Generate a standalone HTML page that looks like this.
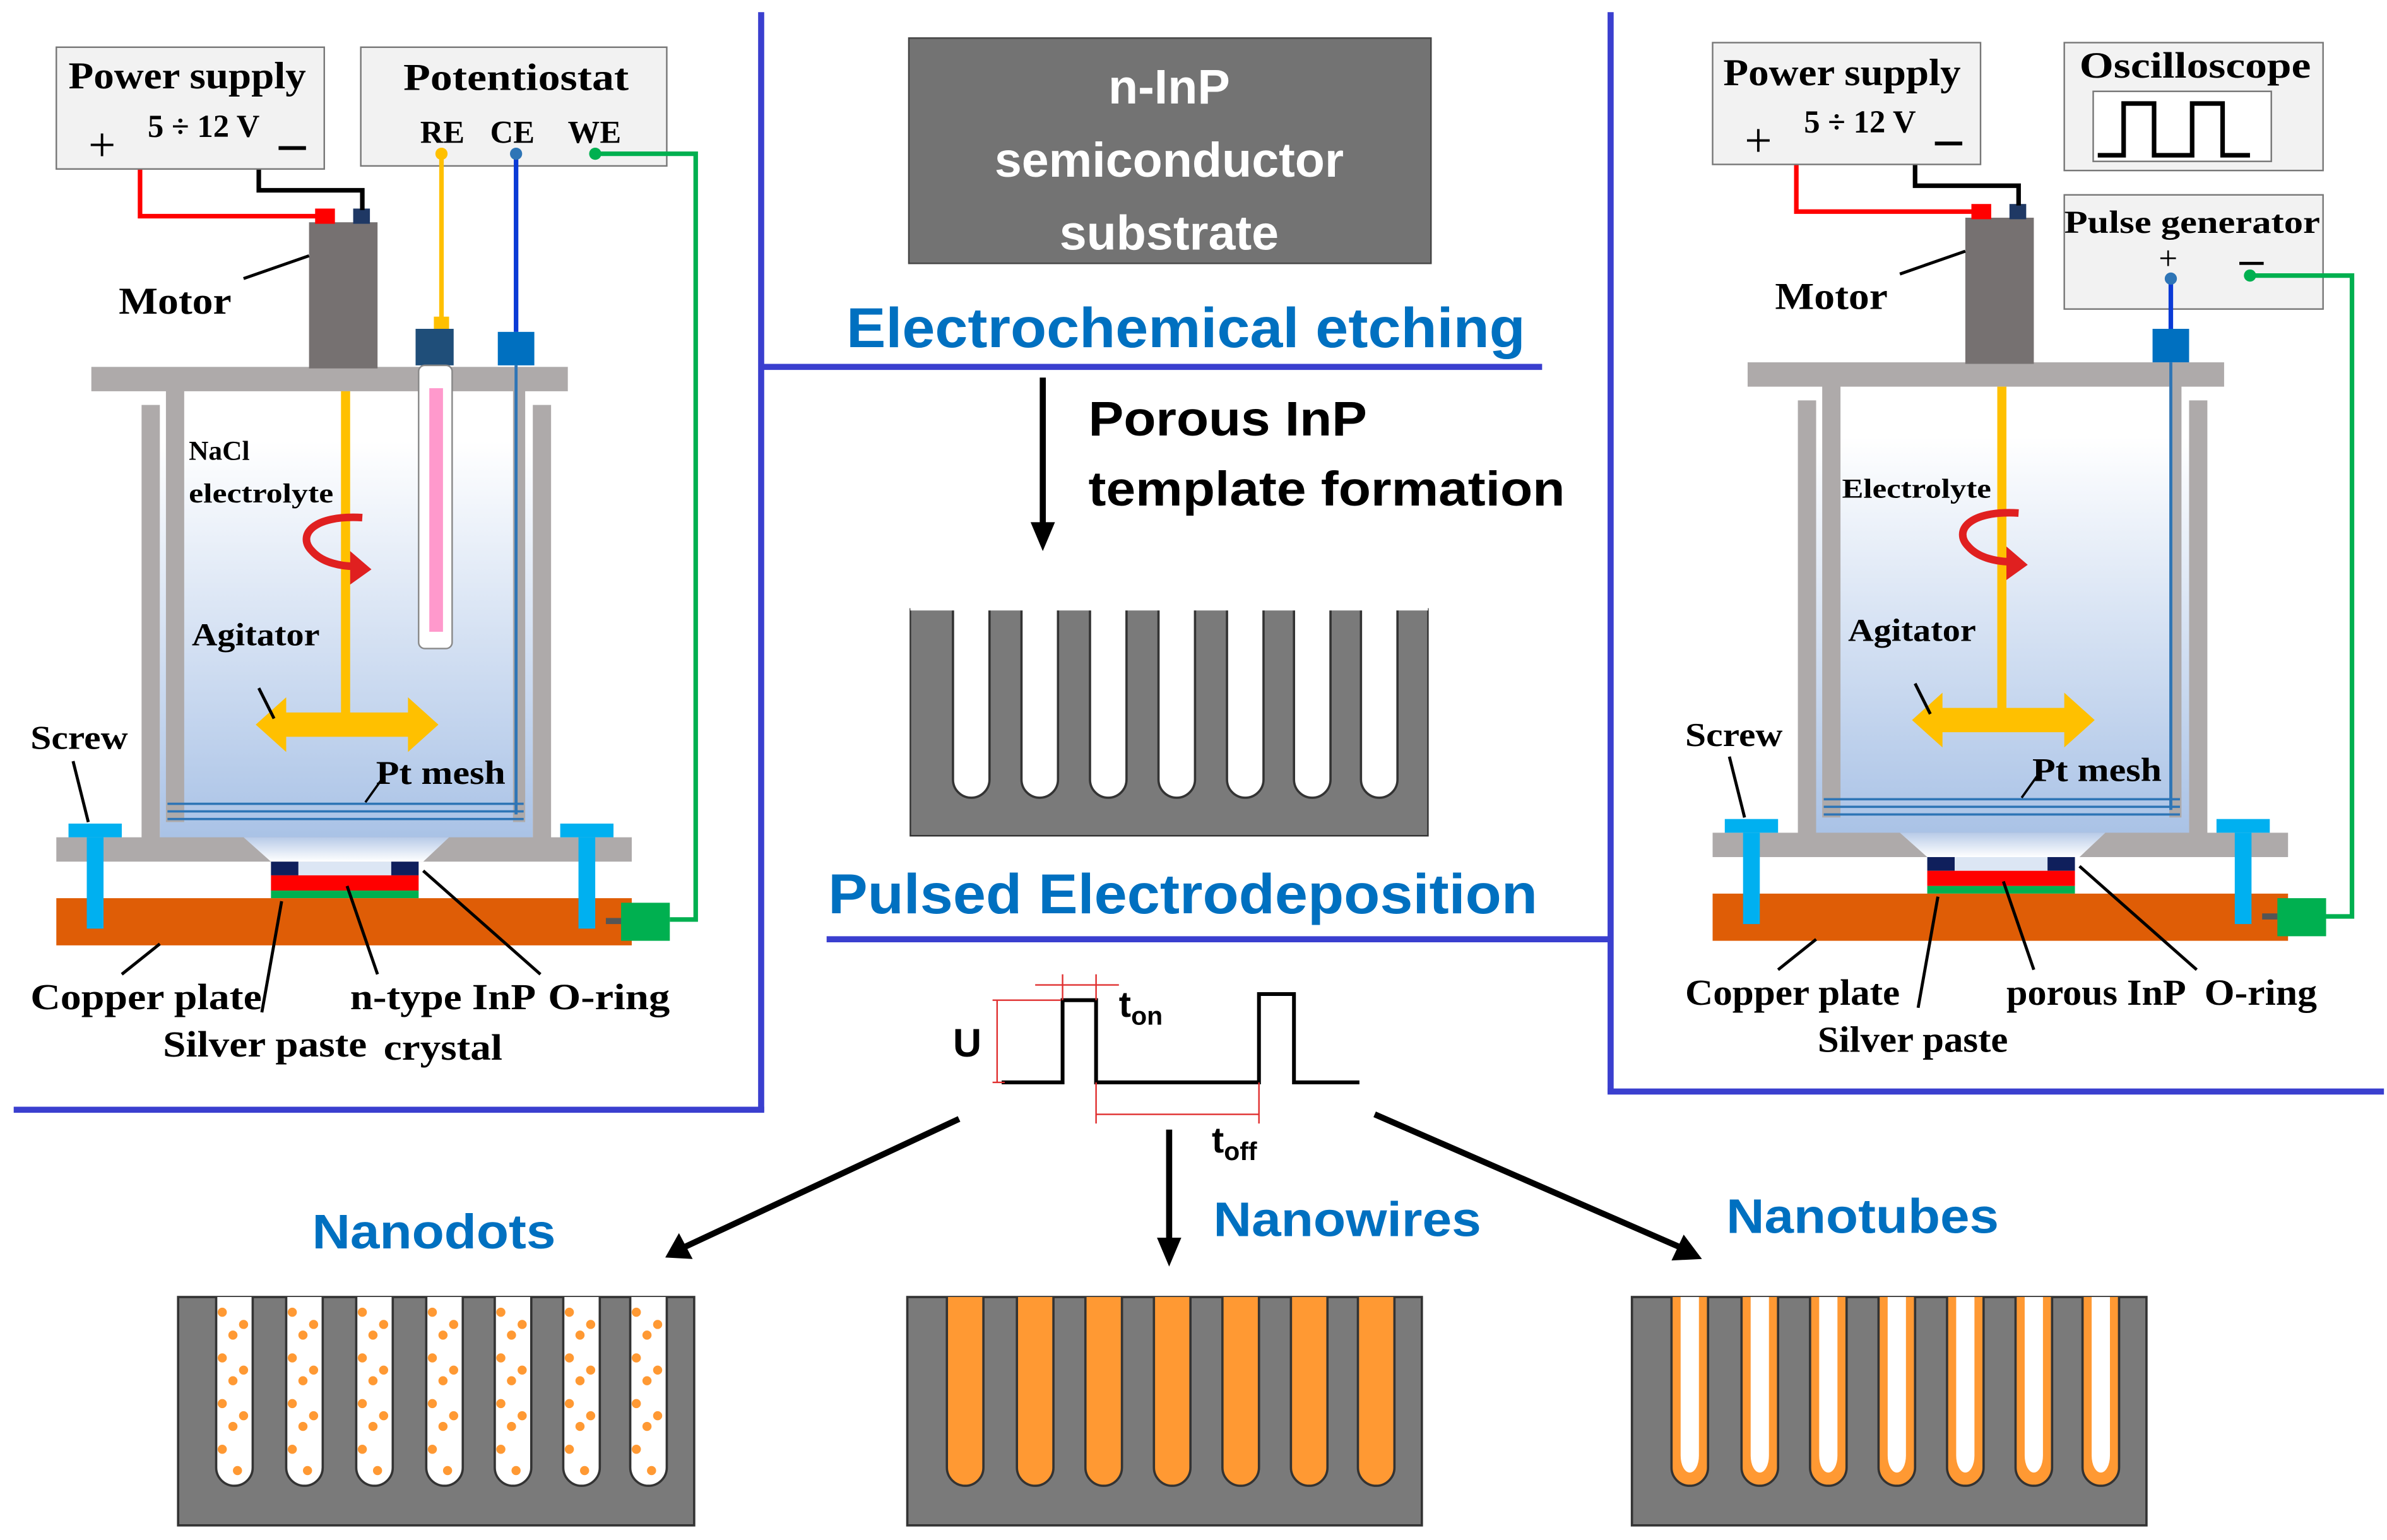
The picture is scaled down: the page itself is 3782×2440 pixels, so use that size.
<!DOCTYPE html>
<html><head><meta charset="utf-8"><style>html,body{margin:0;padding:0;background:#fff}svg{display:block}</style></head>
<body>
<svg width="3782" height="2440" viewBox="0 0 1568 1011.6" xmlns="http://www.w3.org/2000/svg" xmlns:xlink="http://www.w3.org/1999/xlink">
<defs>
<linearGradient id="liq" x1="0" y1="0" x2="0" y2="1"><stop offset="0" stop-color="#ffffff"/><stop offset="1" stop-color="#a9c2e6"/></linearGradient>
<linearGradient id="fun" x1="0" y1="0" x2="0" y2="1"><stop offset="0" stop-color="#b8cbe8"/><stop offset="1" stop-color="#ffffff"/></linearGradient>
<g id="app">
 <rect x="105" y="290" width="245" height="262" fill="url(#liq)"/>
 <rect x="93" y="266" width="12" height="286" fill="#aeaaaa"/>
 <rect x="350" y="266" width="12" height="286" fill="#aeaaaa"/>
 <rect x="109" y="255" width="12" height="285" fill="#aeaaaa"/>
 <rect x="337" y="255" width="8" height="285" fill="#aeaaaa"/>
 <rect x="60" y="241" width="313" height="16" fill="#aeaaaa"/>
 <rect x="203" y="146" width="45" height="96" fill="#767171"/>
 <rect x="207" y="137" width="13" height="10" fill="#ff0000"/>
 <rect x="232" y="137" width="11" height="10" fill="#1f3864"/>
 <polyline points="92,103 92,142 208,142" fill="none" stroke="#ff0000" stroke-width="3"/>
 <polyline points="170,103 170,125 238,125 238,138" fill="none" stroke="#000" stroke-width="3"/>
 <circle cx="92" cy="102" r="4" fill="#fff" stroke="#333"/>
 <circle cx="170" cy="102" r="4" fill="#fff" stroke="#333"/>
 <line x1="227" y1="257" x2="227" y2="470" stroke="#ffc000" stroke-width="6"/>
 <polygon points="168,476 188,458 188,468 268,468 268,458 288,476 268,494 268,484 188,484 188,494" fill="#ffc000"/>
 <path d="M238,340 C205,338 195,352 205,362 C212,370 225,372 233,372" fill="none" stroke="#e02020" stroke-width="5"/>
 <polygon points="230,362 244,374 230,384" fill="#e02020"/>
 <line x1="110" y1="528" x2="344" y2="528" stroke="#2e75b6" stroke-width="1.5"/>
 <line x1="110" y1="533" x2="344" y2="533" stroke="#2e75b6" stroke-width="1.5"/>
 <line x1="110" y1="538" x2="344" y2="538" stroke="#2e75b6" stroke-width="1.5"/>
 <rect x="37" y="550" width="378" height="16" fill="#aeaaaa"/>
 <polygon points="160,550 295,550 278,566 178,566" fill="url(#fun)"/>
 <rect x="196" y="566" width="61" height="9" fill="#dce6f4"/>
 <rect x="178" y="566" width="18" height="9" fill="#0f1f5c"/>
 <rect x="257" y="566" width="18" height="9" fill="#0f1f5c"/>
 <rect x="178" y="575" width="97" height="10" fill="#ff0000"/>
 <rect x="178" y="585" width="97" height="5" fill="#00b050"/>
 <rect x="37" y="590" width="378" height="31" fill="#df5d06"/>
 <rect x="45" y="541" width="35" height="9" fill="#00b0f0"/>
 <rect x="57" y="550" width="11" height="60" fill="#00b0f0"/>
 <rect x="368" y="541" width="35" height="9" fill="#00b0f0"/>
 <rect x="380" y="550" width="11" height="60" fill="#00b0f0"/>
 <rect x="398" y="603" width="10" height="4" fill="#555"/>
 <rect x="408" y="593" width="32" height="25" fill="#00b050"/>
 <line x1="160" y1="183" x2="203" y2="168" stroke="#000" stroke-width="2"/>
 <line x1="180" y1="472" x2="170" y2="452" stroke="#000" stroke-width="2"/>
 <line x1="48" y1="500" x2="58" y2="540" stroke="#000" stroke-width="2"/>
 <line x1="80" y1="640" x2="105" y2="620" stroke="#000" stroke-width="2"/>
 <line x1="172" y1="665" x2="185" y2="592" stroke="#000" stroke-width="2"/>
 <line x1="248" y1="640" x2="228" y2="582" stroke="#000" stroke-width="2"/>
 <line x1="355" y1="640" x2="278" y2="572" stroke="#000" stroke-width="2"/>
 <line x1="240" y1="527" x2="250" y2="513" stroke="#000" stroke-width="1.5"/>
</g>
<g id="pores"><path d="M0,0 V112 a12,12 0 0 0 24,0 V0" /></g>
</defs>
<g font-family="Liberation Serif, serif" font-weight="bold" fill="#000">
<g stroke="#3a3fcf" stroke-width="4" fill="none">
 <line x1="500" y1="8" x2="500" y2="730"/><line x1="9" y1="729" x2="502" y2="729"/>
 <line x1="500" y1="241" x2="1013" y2="241"/>
 <line x1="1058" y1="8" x2="1058" y2="718"/><line x1="1056" y1="717" x2="1566" y2="717"/>
 <line x1="543" y1="617" x2="1058" y2="617"/>
</g>
<use xlink:href="#app"/>
<rect x="37" y="31" width="176" height="80" fill="#f2f2f2" stroke="#777"/>
<text x="45" y="58" font-size="25" textLength="156" lengthAdjust="spacingAndGlyphs">Power supply</text>
<text x="97" y="90" font-size="21">5 ÷ 12 V</text>
<text x="58" y="106" font-size="32" font-weight="normal">+</text>
<rect x="183" y="96" width="18" height="2.5" fill="#000"/>
<rect x="237" y="31" width="201" height="78" fill="#f2f2f2" stroke="#777"/>
<text x="265" y="59" font-size="25" textLength="148" lengthAdjust="spacingAndGlyphs">Potentiostat</text>
<text x="276" y="94" font-size="21">RE</text><text x="322" y="94" font-size="21">CE</text><text x="373" y="94" font-size="21">WE</text>
<line x1="290" y1="101" x2="290" y2="212" stroke="#ffc000" stroke-width="3"/>
<rect x="285" y="208" width="10" height="8" fill="#ffc000"/>
<rect x="273" y="216" width="25" height="24" fill="#1f4e79"/>
<rect x="275" y="240" width="22" height="186" rx="4" fill="#fff" stroke="#888"/>
<rect x="282" y="255" width="9" height="160" fill="#ff99cc"/>
<line x1="339" y1="101" x2="339" y2="218" stroke="#0a3ad6" stroke-width="3"/>
<rect x="327" y="218" width="24" height="22" fill="#0070c0"/>
<line x1="339" y1="240" x2="339" y2="535" stroke="#2e75b6" stroke-width="2"/>
<circle cx="290" cy="101" r="4" fill="#ffc000"/><circle cx="339" cy="101" r="4" fill="#2e75b6"/><circle cx="391" cy="101" r="4" fill="#00b050"/>
<polyline points="391,101 457,101 457,604 440,604" fill="none" stroke="#00b050" stroke-width="3"/>
<text x="78" y="206" font-size="25" textLength="74" lengthAdjust="spacingAndGlyphs">Motor</text>
<text x="124" y="302" font-size="18">NaCl</text>
<text x="124" y="330" font-size="18" textLength="95" lengthAdjust="spacingAndGlyphs">electrolyte</text>
<text x="126" y="424" font-size="21" textLength="84" lengthAdjust="spacingAndGlyphs">Agitator</text>
<text x="20" y="492" font-size="22" textLength="64" lengthAdjust="spacingAndGlyphs">Screw</text>
<text x="247" y="515" font-size="22" textLength="85" lengthAdjust="spacingAndGlyphs">Pt mesh</text>
<text x="20" y="663" font-size="24" textLength="152" lengthAdjust="spacingAndGlyphs">Copper plate</text>
<text x="230" y="663" font-size="24" textLength="122" lengthAdjust="spacingAndGlyphs">n-type InP</text>
<text x="360" y="663" font-size="24" textLength="80" lengthAdjust="spacingAndGlyphs">O-ring</text>
<text x="107" y="694" font-size="24" textLength="134" lengthAdjust="spacingAndGlyphs">Silver paste</text>
<text x="252" y="696" font-size="24" textLength="78" lengthAdjust="spacingAndGlyphs">crystal</text>

<g transform="translate(1088,-3)"><use xlink:href="#app"/></g>
<rect x="1125" y="28" width="176" height="80" fill="#f2f2f2" stroke="#777"/>
<text x="1132" y="56" font-size="25" textLength="156" lengthAdjust="spacingAndGlyphs">Power supply</text>
<text x="1185" y="87" font-size="21">5 ÷ 12 V</text>
<text x="1146" y="103" font-size="32" font-weight="normal">+</text>
<rect x="1271" y="93" width="18" height="2.5" fill="#000"/>
<rect x="1356" y="28" width="170" height="84" fill="#f2f2f2" stroke="#777"/>
<text x="1366" y="51" font-size="24" textLength="152" lengthAdjust="spacingAndGlyphs">Oscilloscope</text>
<rect x="1375" y="60" width="117" height="46" fill="#fff" stroke="#777"/>
<polyline points="1378,102 1395,102 1395,68 1415,68 1415,102 1440,102 1440,68 1460,68 1460,102 1478,102" fill="none" stroke="#000" stroke-width="3"/>
<rect x="1356" y="128" width="170" height="75" fill="#f2f2f2" stroke="#777"/>
<text x="1356" y="153" font-size="21" textLength="168" lengthAdjust="spacingAndGlyphs">Pulse generator</text>
<text x="1418" y="177" font-size="22" font-weight="normal">+</text>
<rect x="1471" y="172" width="16" height="2" fill="#000"/>
<line x1="1426" y1="183" x2="1426" y2="218" stroke="#0a3ad6" stroke-width="3"/>
<circle cx="1426" cy="183" r="4" fill="#2e75b6"/>
<rect x="1414" y="216" width="24" height="22" fill="#0070c0"/>
<line x1="1426" y1="238" x2="1426" y2="532" stroke="#2e75b6" stroke-width="2"/>
<circle cx="1478" cy="181" r="4" fill="#00b050"/>
<polyline points="1478,181 1545,181 1545,602 1528,602" fill="none" stroke="#00b050" stroke-width="3"/>
<text x="1166" y="203" font-size="25" textLength="74" lengthAdjust="spacingAndGlyphs">Motor</text>
<text x="1210" y="327" font-size="18" textLength="98" lengthAdjust="spacingAndGlyphs">Electrolyte</text>
<text x="1214" y="421" font-size="21" textLength="84" lengthAdjust="spacingAndGlyphs">Agitator</text>
<text x="1107" y="490" font-size="22" textLength="64" lengthAdjust="spacingAndGlyphs">Screw</text>
<text x="1335" y="513" font-size="22" textLength="85" lengthAdjust="spacingAndGlyphs">Pt mesh</text>
<text x="1107" y="660" font-size="24" textLength="141" lengthAdjust="spacingAndGlyphs">Copper plate</text>
<text x="1318" y="660" font-size="24" textLength="118" lengthAdjust="spacingAndGlyphs">porous InP</text>
<text x="1448" y="660" font-size="24" textLength="74" lengthAdjust="spacingAndGlyphs">O-ring</text>
<text x="1194" y="691" font-size="24" textLength="125" lengthAdjust="spacingAndGlyphs">Silver paste</text>

<rect x="597" y="25" width="343" height="148" fill="#737373" stroke="#444"/>
<g font-family="Liberation Sans, sans-serif" font-size="32" fill="#fff" text-anchor="middle">
<text x="768" y="68">n-InP</text><text x="768" y="116">semiconductor</text><text x="768" y="164">substrate</text></g>
<g font-family="Liberation Sans, sans-serif" fill="#0070c0" font-size="37">
<text x="556" y="228" textLength="446" lengthAdjust="spacingAndGlyphs">Electrochemical etching</text>
<text x="544" y="600" textLength="466" lengthAdjust="spacingAndGlyphs">Pulsed Electrodeposition</text>
<text x="205" y="820" font-size="32" textLength="160" lengthAdjust="spacingAndGlyphs">Nanodots</text>
<text x="797" y="812" font-size="32" textLength="176" lengthAdjust="spacingAndGlyphs">Nanowires</text>
<text x="1134" y="810" font-size="32" textLength="179" lengthAdjust="spacingAndGlyphs">Nanotubes</text>
</g>
<g font-family="Liberation Sans, sans-serif" font-size="32">
<text x="715" y="286" textLength="183" lengthAdjust="spacingAndGlyphs">Porous InP</text><text x="715" y="332" textLength="313" lengthAdjust="spacingAndGlyphs">template formation</text>
<text x="626" y="694" font-size="26">U</text>
<text x="735" y="668" font-size="24">t<tspan font-size="17" dy="5">on</tspan></text>
<text x="796" y="757" font-size="24">t<tspan font-size="17" dy="5">off</tspan></text>
</g>
<line x1="685" y1="248" x2="685" y2="345" stroke="#000" stroke-width="4"/>
<polygon points="677,343 693,343 685,362" fill="#000"/>
<rect x="598" y="400" width="340" height="149" fill="#7a7a7a" stroke="#333"/>
<g fill="#fff" stroke="#333" stroke-width="1.5">
<use xlink:href="#pores" x="626" y="400"/><use xlink:href="#pores" x="671" y="400"/><use xlink:href="#pores" x="716" y="400"/><use xlink:href="#pores" x="761" y="400"/><use xlink:href="#pores" x="806" y="400"/><use xlink:href="#pores" x="850" y="400"/><use xlink:href="#pores" x="894" y="400"/>
</g>
<rect x="598" y="399" width="340" height="2" fill="#fff"/>
<polyline points="658,711 698,711 698,657 720,657 720,711 827,711 827,653 850,653 850,711 893,711" fill="none" stroke="#000" stroke-width="2.5"/>
<g stroke="#e03030" stroke-width="1">
<line x1="655" y1="657" x2="655" y2="711"/><line x1="652" y1="657" x2="697" y2="657"/><line x1="652" y1="711" x2="660" y2="711"/>
<line x1="680" y1="647" x2="735" y2="647"/><line x1="698" y1="640" x2="698" y2="657"/><line x1="720" y1="640" x2="720" y2="657"/>
<line x1="720" y1="711" x2="720" y2="738"/><line x1="827" y1="711" x2="827" y2="738"/><line x1="720" y1="732" x2="827" y2="732"/>
</g>
<line x1="630" y1="735" x2="450" y2="819" stroke="#000" stroke-width="4"/>
<polygon points="437,826 446,810 455,827" fill="#000"/>
<line x1="768" y1="742" x2="768" y2="815" stroke="#000" stroke-width="4"/>
<polygon points="760,813 776,813 768,832" fill="#000"/>
<line x1="903" y1="732" x2="1103" y2="819" stroke="#000" stroke-width="4"/>
<polygon points="1118,827 1098,828 1106,811" fill="#000"/>
<g stroke="#333" stroke-width="1.5">
<rect x="117" y="852" width="339" height="150" fill="#7a7a7a"/>
<rect x="596" y="852" width="338" height="150" fill="#7a7a7a"/>
<rect x="1072" y="852" width="338" height="150" fill="#7a7a7a"/>
</g>
<g stroke="#333" stroke-width="1.5">
<g fill="#fff">
<use xlink:href="#pores" x="142" y="852"/><use xlink:href="#pores" x="188" y="852"/><use xlink:href="#pores" x="234" y="852"/><use xlink:href="#pores" x="280" y="852"/><use xlink:href="#pores" x="325" y="852"/><use xlink:href="#pores" x="370" y="852"/><use xlink:href="#pores" x="414" y="852"/>
</g>
<g fill="#ff9933">
<use xlink:href="#pores" x="622" y="852"/><use xlink:href="#pores" x="668" y="852"/><use xlink:href="#pores" x="713" y="852"/><use xlink:href="#pores" x="758" y="852"/><use xlink:href="#pores" x="803" y="852"/><use xlink:href="#pores" x="848" y="852"/><use xlink:href="#pores" x="892" y="852"/>
</g>
<g fill="#ff9933">
<use xlink:href="#pores" x="1098" y="852"/><use xlink:href="#pores" x="1144" y="852"/><use xlink:href="#pores" x="1189" y="852"/><use xlink:href="#pores" x="1234" y="852"/><use xlink:href="#pores" x="1279" y="852"/><use xlink:href="#pores" x="1324" y="852"/><use xlink:href="#pores" x="1368" y="852"/>
</g>
</g>
<g fill="#fff" transform="translate(6,852) scale(0.5,0.93)">
<use xlink:href="#pores" x="2196" y="0" stroke="none"/><use xlink:href="#pores" x="2288" y="0" stroke="none"/><use xlink:href="#pores" x="2378" y="0" stroke="none"/><use xlink:href="#pores" x="2468" y="0" stroke="none"/><use xlink:href="#pores" x="2558" y="0" stroke="none"/><use xlink:href="#pores" x="2648" y="0" stroke="none"/><use xlink:href="#pores" x="2736" y="0" stroke="none"/>
</g>
<g fill="#ff9933">
<g id="dotcol"><circle cx="146" cy="862" r="3"/><circle cx="153" cy="877" r="3"/><circle cx="146" cy="892" r="3"/><circle cx="153" cy="907" r="3"/><circle cx="146" cy="922" r="3"/><circle cx="153" cy="937" r="3"/><circle cx="146" cy="952" r="3"/><circle cx="156" cy="966" r="3"/>
<circle cx="160" cy="870" r="3"/><circle cx="160" cy="900" r="3"/><circle cx="160" cy="930" r="3"/></g>
<use xlink:href="#dotcol" x="46"/><use xlink:href="#dotcol" x="92"/><use xlink:href="#dotcol" x="138"/><use xlink:href="#dotcol" x="183"/><use xlink:href="#dotcol" x="228"/><use xlink:href="#dotcol" x="272"/>
</g>
</g>
</svg>
</body></html>
